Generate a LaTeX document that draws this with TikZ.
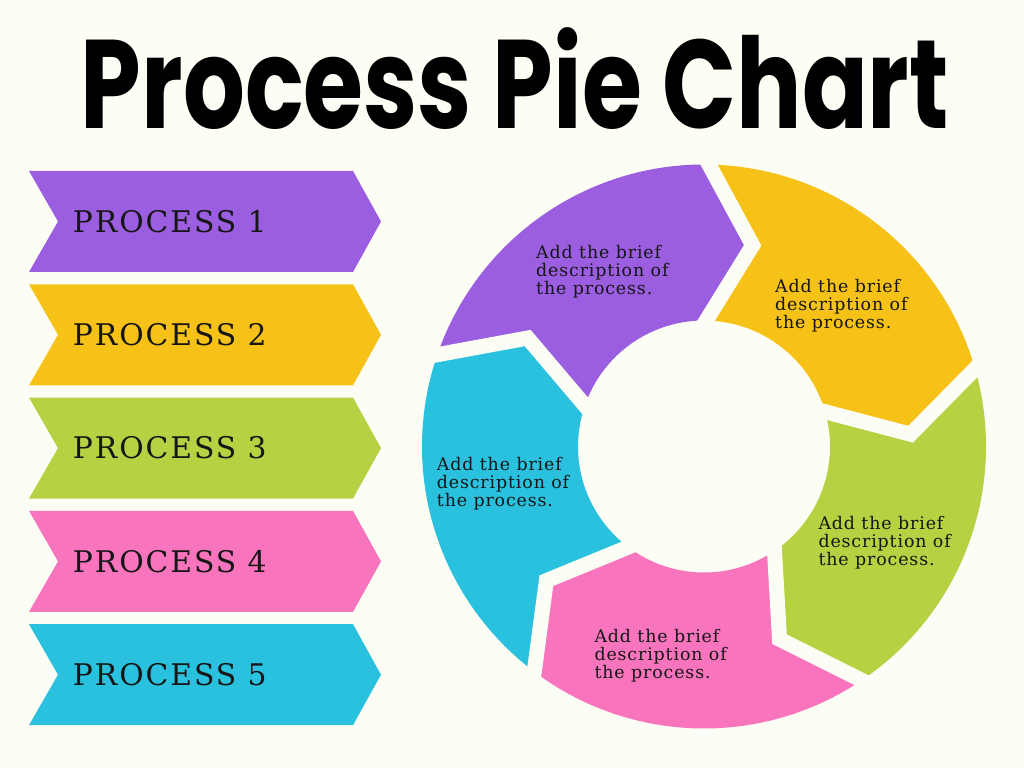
\documentclass[tikz,border=0pt]{standalone}
\usepackage{fontspec}
\usepackage{graphicx}
\usetikzlibrary{calc}
\newfontfamily\titlefont{Poppins}
\newfontfamily\procfont{DejaVu Serif}[LetterSpace=6.5]
\newfontfamily\descfont{DejaVu Serif}[LetterSpace=5]
\definecolor{bg}{RGB}{252,253,244}
\definecolor{cpurple}{RGB}{156,94,225}
\definecolor{cyellow}{RGB}{247,194,24}
\definecolor{cgreen}{RGB}{182,209,66}
\definecolor{cpink}{RGB}{248,117,190}
\definecolor{cblue}{RGB}{42,193,223}
\definecolor{ink}{RGB}{22,22,22}
\newcommand\descbox{\vtop{\baselineskip=18pt\lineskiplimit=-20pt\hbox{Add the brief}\hbox{description of}\hbox{the process.}}}
\tikzset{
  proclabel/.style={inner sep=0pt, text=ink, font=\procfont\fontsize{29.8}{30}\selectfont},
  desclabel/.style={inner sep=0pt, text=ink, anchor=base west, font=\descfont\fontsize{17.4}{18}\selectfont},
  gapline/.style={draw=bg, line width=15pt, line join=miter, miter limit=20},
}
\begin{document}
\begin{tikzpicture}[x=1pt,y=1pt]
\fill[bg] (0,0) rectangle (1024,768);
\useasboundingbox (0,0) rectangle (1024,768);
% title
\node[anchor=base, inner sep=0pt, font=\titlefont\bfseries\fontsize{126}{126}\selectfont] (title) at (515,639.7) {\resizebox{868pt}{\height}{Process Pie Chart}};
% banners
\foreach \i/\c/\n in {0/cpurple/1,1/cyellow/2,2/cgreen/3,3/cpink/4,4/cblue/5}{
  \pgfmathsetmacro\tp{597-113.3*\i}
  \pgfmathsetmacro\bt{\tp-101}
  \pgfmathsetmacro\md{\tp-50.5}
  \fill[\c] (29,\tp) -- (353,\tp) -- (381,\md) -- (353,\bt) -- (29,\bt) -- (58,\md) -- cycle;
  \node[proclabel, anchor=west] (proc\n) at (72.7,\md) {PROCESS \n};
}
% ring
\def\Ro{282}\def\Ri{126}\def\Rm{207}\def\dl{12.6}
\begin{scope}[shift={(704,321.5)}]
  \foreach \a/\b/\c in {161/89/cpurple, 89/16/cyellow, 16/-56/cgreen, -56/-127/cpink, 233/161/cblue}{
    \fill[\c] (\a:\Ro) arc[start angle=\a, end angle=\b, radius=\Ro]
      -- ({\b-\dl}:\Rm) -- (\b:\Ri)
      arc[start angle=\b, end angle=\a, radius=\Ri]
      -- ({\a-\dl}:\Rm) -- cycle;
  }
  \foreach \b in {161,89,16,-56,-127}{
    \coordinate (m\b) at ({\b-\dl}:\Rm);
    \coordinate (o\b) at (\b:\Ro);
    \coordinate (i\b) at (\b:\Ri);
    \draw[gapline] ($(m\b)!1.4!(o\b)$) -- (m\b) -- ($(m\b)!1.4!(i\b)$);
  }
\end{scope}
% descriptions
\node[desclabel] (dpurple) at (536,509.7) {\descbox};
\node[desclabel] (dyellow) at (775,475.7) {\descbox};
\node[desclabel] (dblue) at (436.7,297) {\descbox};
\node[desclabel] (dgreen) at (818.3,238.7) {\descbox};
\node[desclabel] (dpink) at (594.3,125.3) {\descbox};
\end{tikzpicture}
\end{document}
